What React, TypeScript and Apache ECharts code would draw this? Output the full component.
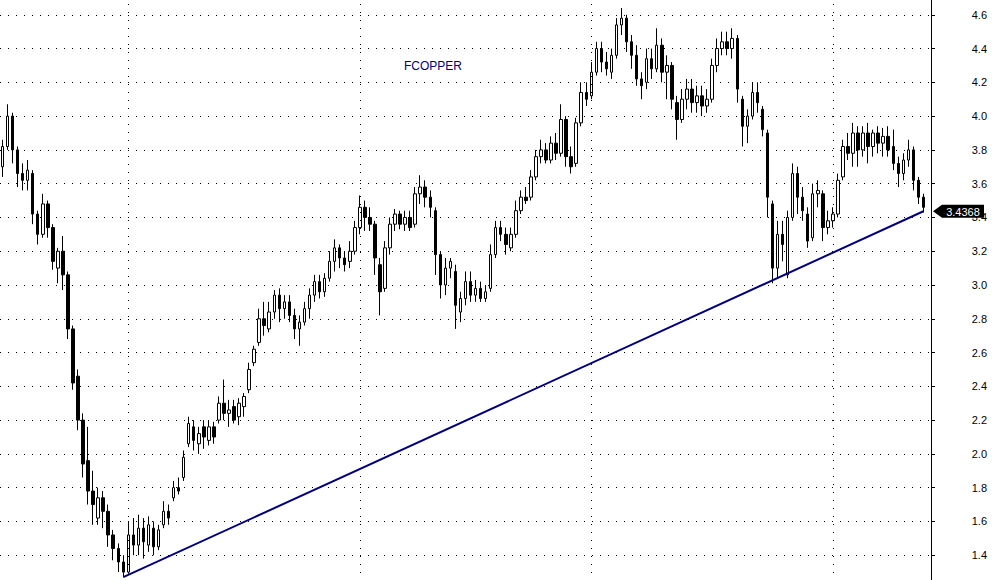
import React, { useEffect, useRef } from "react";
import * as echarts from "echarts";

// Each bar: [open, close, low, high]
const candles: number[][] = [
  [3.70, 3.82, 3.64, 3.86], [3.82, 4.00, 3.80, 4.07], [4.00, 3.80, 3.72, 4.02], [3.80, 3.66, 3.58, 3.82],
  [3.66, 3.62, 3.56, 3.72], [3.62, 3.68, 3.56, 3.74], [3.66, 3.42, 3.36, 3.68], [3.42, 3.30, 3.24, 3.44],
  [3.30, 3.48, 3.28, 3.54], [3.48, 3.34, 3.28, 3.50], [3.34, 3.14, 3.09, 3.36], [3.10, 3.20, 3.01, 3.22],
  [3.20, 3.06, 2.97, 3.29], [3.06, 2.74, 2.68, 3.08], [2.74, 2.42, 2.38, 2.76], [2.46, 2.20, 2.14, 2.50],
  [2.20, 1.94, 1.86, 2.24], [1.96, 1.78, 1.70, 2.16], [1.78, 1.70, 1.58, 1.90], [1.62, 1.74, 1.58, 1.80],
  [1.74, 1.66, 1.56, 1.78], [1.66, 1.52, 1.45, 1.70], [1.52, 1.44, 1.37, 1.55], [1.44, 1.36, 1.30, 1.47],
  [1.36, 1.30, 1.27, 1.40], [1.30, 1.52, 1.29, 1.60], [1.52, 1.46, 1.40, 1.62], [1.46, 1.56, 1.40, 1.64],
  [1.56, 1.48, 1.38, 1.62], [1.46, 1.58, 1.42, 1.63], [1.56, 1.45, 1.40, 1.60], [1.45, 1.55, 1.43, 1.58],
  [1.58, 1.66, 1.56, 1.72], [1.66, 1.62, 1.58, 1.70], [1.74, 1.80, 1.72, 1.84], [1.80, 1.78, 1.76, 1.86],
  [1.86, 1.98, 1.84, 2.02], [2.06, 2.18, 2.04, 2.22], [2.16, 2.08, 2.02, 2.20], [2.06, 2.12, 2.00, 2.16],
  [2.16, 2.10, 2.03, 2.20], [2.08, 2.16, 2.05, 2.20], [2.16, 2.10, 2.06, 2.19], [2.20, 2.30, 2.18, 2.34],
  [2.30, 2.24, 2.20, 2.44], [2.24, 2.26, 2.16, 2.32], [2.28, 2.20, 2.18, 2.32], [2.22, 2.30, 2.17, 2.33],
  [2.28, 2.34, 2.22, 2.36], [2.38, 2.50, 2.36, 2.54], [2.54, 2.62, 2.52, 2.64], [2.66, 2.80, 2.64, 2.86],
  [2.80, 2.76, 2.70, 2.90], [2.74, 2.84, 2.72, 2.90], [2.84, 2.94, 2.80, 2.97], [2.94, 2.86, 2.78, 2.98],
  [2.86, 2.90, 2.80, 2.94], [2.90, 2.82, 2.78, 2.94], [2.82, 2.74, 2.68, 2.86], [2.74, 2.78, 2.64, 2.82],
  [2.78, 2.86, 2.76, 2.90], [2.86, 2.94, 2.80, 2.98], [2.94, 3.02, 2.90, 3.06], [3.02, 2.96, 2.92, 3.06],
  [2.96, 3.04, 2.93, 3.07], [3.04, 3.14, 3.02, 3.20], [3.14, 3.22, 3.08, 3.27], [3.22, 3.16, 3.10, 3.24],
  [3.16, 3.12, 3.08, 3.20], [3.14, 3.20, 3.10, 3.26], [3.20, 3.34, 3.18, 3.38], [3.34, 3.46, 3.30, 3.53],
  [3.46, 3.40, 3.32, 3.50], [3.40, 3.36, 3.32, 3.46], [3.36, 3.16, 3.06, 3.38], [3.12, 2.96, 2.82, 3.16],
  [2.98, 3.22, 2.96, 3.26], [3.22, 3.36, 3.18, 3.40], [3.36, 3.42, 3.32, 3.45], [3.42, 3.36, 3.33, 3.44],
  [3.36, 3.40, 3.32, 3.44], [3.40, 3.34, 3.32, 3.44], [3.36, 3.54, 3.34, 3.58], [3.54, 3.58, 3.48, 3.65],
  [3.58, 3.52, 3.46, 3.62], [3.52, 3.46, 3.40, 3.56], [3.44, 3.18, 3.06, 3.46], [3.18, 3.00, 2.92, 3.20],
  [3.00, 3.10, 2.94, 3.16], [3.10, 3.14, 3.04, 3.16], [3.08, 2.88, 2.74, 3.12], [2.84, 2.92, 2.78, 2.96],
  [2.92, 3.02, 2.88, 3.08], [3.02, 2.94, 2.90, 3.08], [2.94, 2.98, 2.90, 3.03], [2.98, 2.92, 2.90, 3.02],
  [2.92, 2.96, 2.90, 3.00], [2.98, 3.18, 2.96, 3.24], [3.18, 3.34, 3.16, 3.38], [3.34, 3.30, 3.26, 3.38],
  [3.30, 3.24, 3.18, 3.34], [3.22, 3.30, 3.20, 3.34], [3.30, 3.44, 3.28, 3.50], [3.44, 3.52, 3.42, 3.56],
  [3.52, 3.50, 3.48, 3.58], [3.52, 3.64, 3.50, 3.68], [3.64, 3.76, 3.62, 3.80], [3.76, 3.80, 3.72, 3.86],
  [3.80, 3.74, 3.72, 3.84], [3.74, 3.84, 3.72, 3.88], [3.84, 3.78, 3.74, 3.90], [3.78, 3.98, 3.76, 4.07],
  [3.98, 3.76, 3.70, 4.00], [3.76, 3.70, 3.66, 3.82], [3.72, 3.96, 3.70, 3.99], [3.96, 4.14, 3.94, 4.20],
  [4.14, 4.10, 4.06, 4.20], [4.12, 4.26, 4.10, 4.32], [4.26, 4.40, 4.24, 4.44], [4.40, 4.32, 4.26, 4.44],
  [4.32, 4.28, 4.24, 4.38], [4.26, 4.36, 4.22, 4.40], [4.36, 4.54, 4.34, 4.58], [4.54, 4.58, 4.48, 4.64],
  [4.58, 4.44, 4.38, 4.60], [4.44, 4.36, 4.28, 4.48], [4.36, 4.22, 4.18, 4.42], [4.22, 4.18, 4.10, 4.26],
  [4.20, 4.34, 4.16, 4.40], [4.34, 4.28, 4.22, 4.40], [4.28, 4.42, 4.26, 4.52], [4.42, 4.26, 4.20, 4.46],
  [4.26, 4.30, 4.10, 4.36], [4.30, 4.10, 4.04, 4.32], [4.08, 3.98, 3.86, 4.12], [3.98, 4.10, 3.96, 4.16],
  [4.10, 4.16, 4.04, 4.22], [4.16, 4.08, 4.02, 4.22], [4.08, 4.12, 4.02, 4.18], [4.12, 4.06, 4.00, 4.18],
  [4.06, 4.10, 4.02, 4.16], [4.10, 4.30, 4.08, 4.34], [4.30, 4.40, 4.26, 4.46], [4.40, 4.44, 4.36, 4.50],
  [4.44, 4.40, 4.36, 4.50], [4.40, 4.46, 4.34, 4.52], [4.46, 4.16, 4.08, 4.48], [4.10, 3.94, 3.82, 4.12],
  [3.94, 4.00, 3.84, 4.04], [4.00, 4.14, 3.98, 4.20], [4.14, 4.08, 4.02, 4.20], [4.04, 3.92, 3.88, 4.06],
  [3.90, 3.52, 3.40, 3.92], [3.48, 3.10, 3.01, 3.50], [3.10, 3.30, 3.04, 3.38], [3.30, 3.24, 3.14, 3.38],
  [3.06, 3.40, 3.04, 3.44], [3.40, 3.66, 3.38, 3.72], [3.66, 3.52, 3.42, 3.70], [3.52, 3.44, 3.38, 3.58],
  [3.42, 3.26, 3.22, 3.46], [3.28, 3.54, 3.26, 3.60], [3.54, 3.56, 3.46, 3.62], [3.54, 3.34, 3.26, 3.56],
  [3.34, 3.38, 3.30, 3.44], [3.38, 3.42, 3.34, 3.46], [3.42, 3.62, 3.40, 3.66], [3.64, 3.82, 3.62, 3.86],
  [3.82, 3.78, 3.74, 3.90], [3.78, 3.90, 3.70, 3.96], [3.90, 3.80, 3.70, 3.94], [3.80, 3.90, 3.76, 3.94],
  [3.90, 3.82, 3.72, 3.96], [3.82, 3.90, 3.76, 3.92], [3.90, 3.84, 3.78, 3.94], [3.84, 3.88, 3.76, 3.93],
  [3.88, 3.80, 3.76, 3.94], [3.82, 3.72, 3.68, 3.92], [3.72, 3.66, 3.58, 3.76], [3.66, 3.74, 3.62, 3.78],
  [3.74, 3.80, 3.70, 3.86], [3.80, 3.62, 3.56, 3.82], [3.62, 3.52, 3.48, 3.64], [3.52, 3.46, 3.43, 3.54],
];

// bar labels (hidden) plus one empty slot before the price axis
const barLabels: string[] = [...candles.map((_, i) => "b" + i), ""];
// bars where a new year starts (dotted vertical separators)
const yearStartBars: number[] = [25, 71, 117, 165];
const yearNames: string[] = ["2009", "2010", "2011", "2012"];
// trend line anchors
const trendFrom = { bar: 24, value: 1.27 };
const trendTo = { bar: 183, value: 3.4368 };
const lastPrice = 3.4368;
const symbolName = "FCOPPER";
// price axis
const yMin = 1.2;
const yMax = 4.8;
const yStep = 0.2;

const FONT = "'Liberation Sans', Arial, sans-serif";
// the chart canvas extends beyond the visible page so that 1.2 / 4.8 fall outside
const OFFSET_TOP = 19;
const CANVAS_H = 608;

export default function App() {
  const ref = useRef<HTMLDivElement>(null);

  useEffect(() => {
    if (!ref.current) return;
    const chart = echarts.init(ref.current, null, { renderer: "svg" });
    const dotted = { color: "#000", width: 1, type: [1, 7] as number[] };

    chart.setOption({
      animation: false,
      backgroundColor: "#fff",
      title: {
        text: symbolName,
        left: 404,
        top: 60 + OFFSET_TOP,
        padding: 0,
        textStyle: { color: "#000080", fontSize: 12, fontWeight: "normal", fontFamily: FONT },
      },
      grid: { left: 0, right: 61, top: 0, bottom: 0, containLabel: false },
      xAxis: {
        type: "category",
        data: barLabels,
        show: false,
        boundaryGap: true,
      },
      yAxis: {
        type: "value",
        position: "right",
        min: yMin,
        max: yMax,
        interval: yStep,
        axisLine: { show: true, lineStyle: { color: "#000", width: 1 } },
        axisTick: { show: true, length: 4, lineStyle: { color: "#000" } },
        axisLabel: {
          color: "#000",
          fontSize: 11,
          fontFamily: FONT,
          align: "right",
          margin: 56,
          showMinLabel: false,
          showMaxLabel: false,
          formatter: (v: number) => v.toFixed(1),
        },
        splitLine: { show: true, lineStyle: dotted },
      },
      series: [
        {
          type: "candlestick",
          data: candles,
          barWidth: 3,
          itemStyle: {
            color: "#fff",
            color0: "#000",
            borderColor: "#000",
            borderColor0: "#000",
            borderWidth: 1,
          },
          markLine: {
            silent: true,
            symbol: "none",
            animation: false,
            label: { show: false },
            data: [
              ...yearStartBars.map((b, k) => ({
                name: yearNames[k],
                xAxis: b,
                lineStyle: dotted,
              })),
              [
                { coord: [trendFrom.bar, trendFrom.value] },
                { coord: [trendTo.bar, trendTo.value] },
              ],
            ],
            lineStyle: { color: "#000080", width: 2, type: "solid" },
          },
        },
      ],
    });

    const y = chart.convertToPixel({ yAxisIndex: 0 }, lastPrice) as number;
    chart.setOption({
      graphic: [
        {
          type: "polygon",
          z: 100,
          shape: {
            points: [
              [933, y],
              [942, y - 6.5],
              [984, y - 6.5],
              [984, y + 6.5],
              [942, y + 6.5],
            ],
          },
          style: { fill: "#000" },
        },
        {
          type: "text",
          z: 101,
          x: 963,
          y: y + 0.5,
          style: {
            text: lastPrice.toFixed(4),
            fill: "#fff",
            fontSize: 11,
            fontFamily: FONT,
            align: "center",
            verticalAlign: "middle",
          },
        },
      ],
    });

    return () => chart.dispose();
  }, []);

  return (
    <div style={{ position: "fixed", left: 0, top: 0, width: 992, height: 580, overflow: "hidden", background: "#fff" }}>
      <div
        ref={ref}
        style={{ position: "absolute", left: 0, top: -OFFSET_TOP, width: 992, height: CANVAS_H }}
      />
    </div>
  );
}
